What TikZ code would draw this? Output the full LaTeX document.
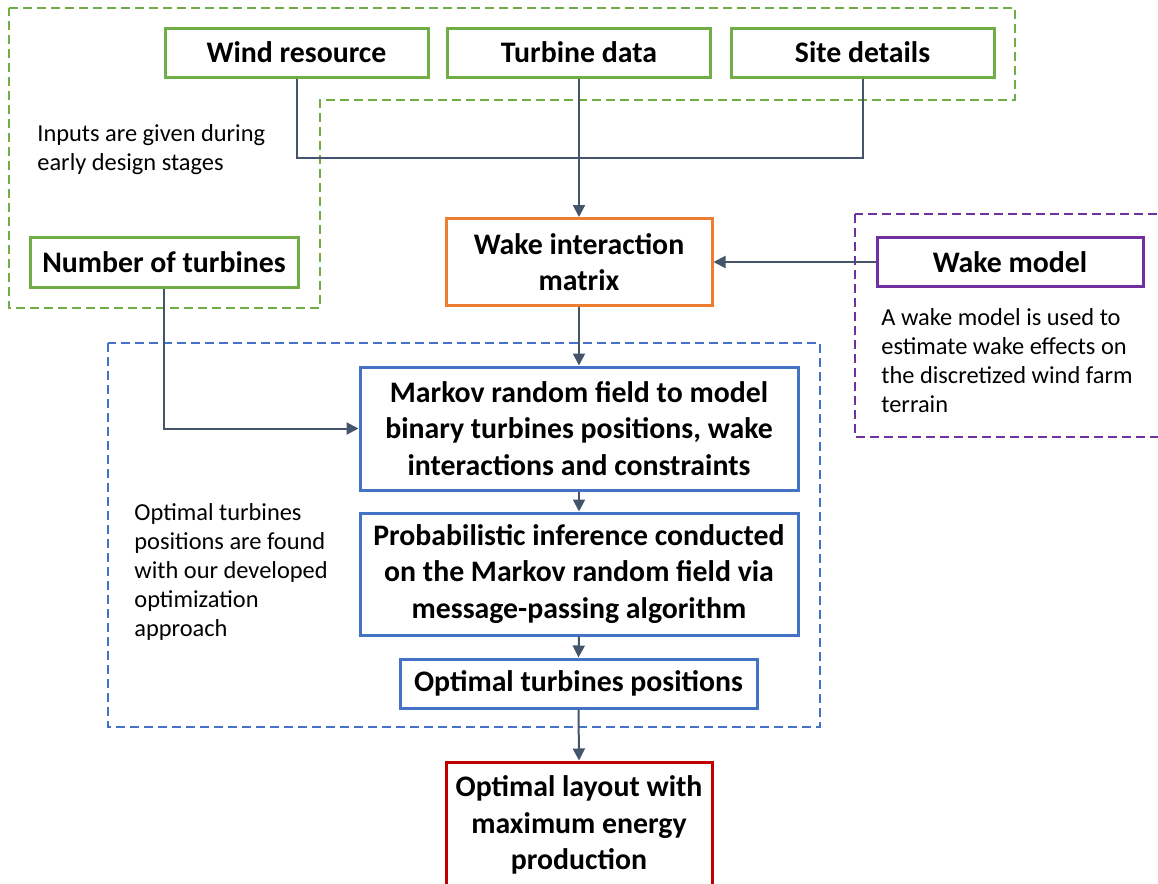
\documentclass[tikz,border=0pt]{standalone}
\usepackage{fontspec}
\setmainfont{Carlito}
\usepackage{tikz}
\usetikzlibrary{arrows.meta,positioning,calc}
\definecolor{ingreen}{RGB}{112,173,71}
\definecolor{wimorange}{RGB}{237,125,49}
\definecolor{optblue}{RGB}{68,114,196}
\definecolor{wakepurple}{RGB}{112,48,160}
\definecolor{outred}{RGB}{192,0,0}
\definecolor{linkgray}{RGB}{68,84,106}
\newcommand{\boxfont}{\bfseries\fontsize{14.9}{18.2}\selectfont}
\newcommand{\notefont}{\fontsize{12.2}{14.6}\selectfont}

\begin{document}
\begin{tikzpicture}[x=0.5pt,y=-0.5pt,
    ->,>={Triangle[length=6pt,width=6pt]},
    link/.style={draw=linkgray, line width=1pt},
    blk/.style={draw, line width=1.5pt, fill=white, inner sep=0pt, align=center, font=\boxfont},
    inbox/.style={blk, draw=ingreen, minimum width=131.5pt, minimum height=24.5pt},
    region/.style={dashed, dash pattern=on 4.5pt off 2.5pt, line width=0.6pt},
    note/.style={anchor=west, align=left, inner sep=0pt, font=\notefont}]
    \useasboundingbox (0,0) rectangle (1158,884);
    % dashed groups
    \draw[-, region, ingreen] (9,8) -- (1015,8) -- (1015,100) -- (320,100) -- (320,308) -- (9,308) -- cycle;
    \draw[-, region, wakepurple] (855,214) rectangle (1175,437);
    \draw[-, region, optblue] (108,343) rectangle (820,727);
    % inputs
    \node[inbox] (wind) at (296.5,52.5) {Wind resource};
    \node[inbox] (turb) at (579,52.5) {Turbine data};
    \node[inbox] (site) at (862.5,52.5) {Site details};
    \node[inbox, minimum width=134pt, minimum height=25pt] (nturb) at (164,262) {Number of turbines};
    \node[note] (innote) at (37,150) {Inputs are given during\\early design stages};
    % wake model
    \node[blk, draw=wimorange, minimum width=133pt, minimum height=43.5pt] (wim) at (579,262) {Wake interaction\\matrix};
    \node[blk, draw=wakepurple, minimum width=133pt, minimum height=24.5pt] (wake) at (1010,262) {Wake model};
    \node[note] (wakenote) at (881,360.5) {A wake model is used to\\estimate wake effects on\\the discretized wind farm\\terrain};
    % optimization
    \node[blk, draw=optblue, minimum width=219pt, minimum height=61.5pt] (mrf) at (579,428.5) {Markov random field to model\\binary turbines positions, wake\\interactions and constraints};
    \node[blk, draw=optblue, minimum width=219pt, minimum height=61pt] (pinf) at (579,574) {Probabilistic inference conducted\\on the Markov random field via\\message-passing algorithm};
    \node[blk, draw=optblue, minimum width=178.5pt, minimum height=24.5pt] (otp) at (578.5,683.5) {Optimal turbines positions};
    \node[note] (optnote) at (134,572) {Optimal turbines\\positions are found\\with our developed\\optimization\\approach};
    % result
    \node[blk, draw=outred, minimum width=133pt, minimum height=63pt] (layout) at (579,825) {Optimal layout with\\maximum energy\\production};
    % connectors
    \coordinate (merge) at (579,158);
    \draw[-, link] (wind.south) |- (merge) -| (site.south);
    \draw[link] (turb.south) -- (wim.north);
    \draw[link] (wake.west) -- (wim.east);
    \draw[link] (wim.south) -- (mrf.north);
    \draw[link] (nturb.south) |- (mrf.west);
    \draw[link] (mrf.south) -- (pinf.north);
    \draw[link] (pinf.south) -- (otp.north);
    \draw[link] (otp.south) -- (layout.north);
\end{tikzpicture}
\end{document}
